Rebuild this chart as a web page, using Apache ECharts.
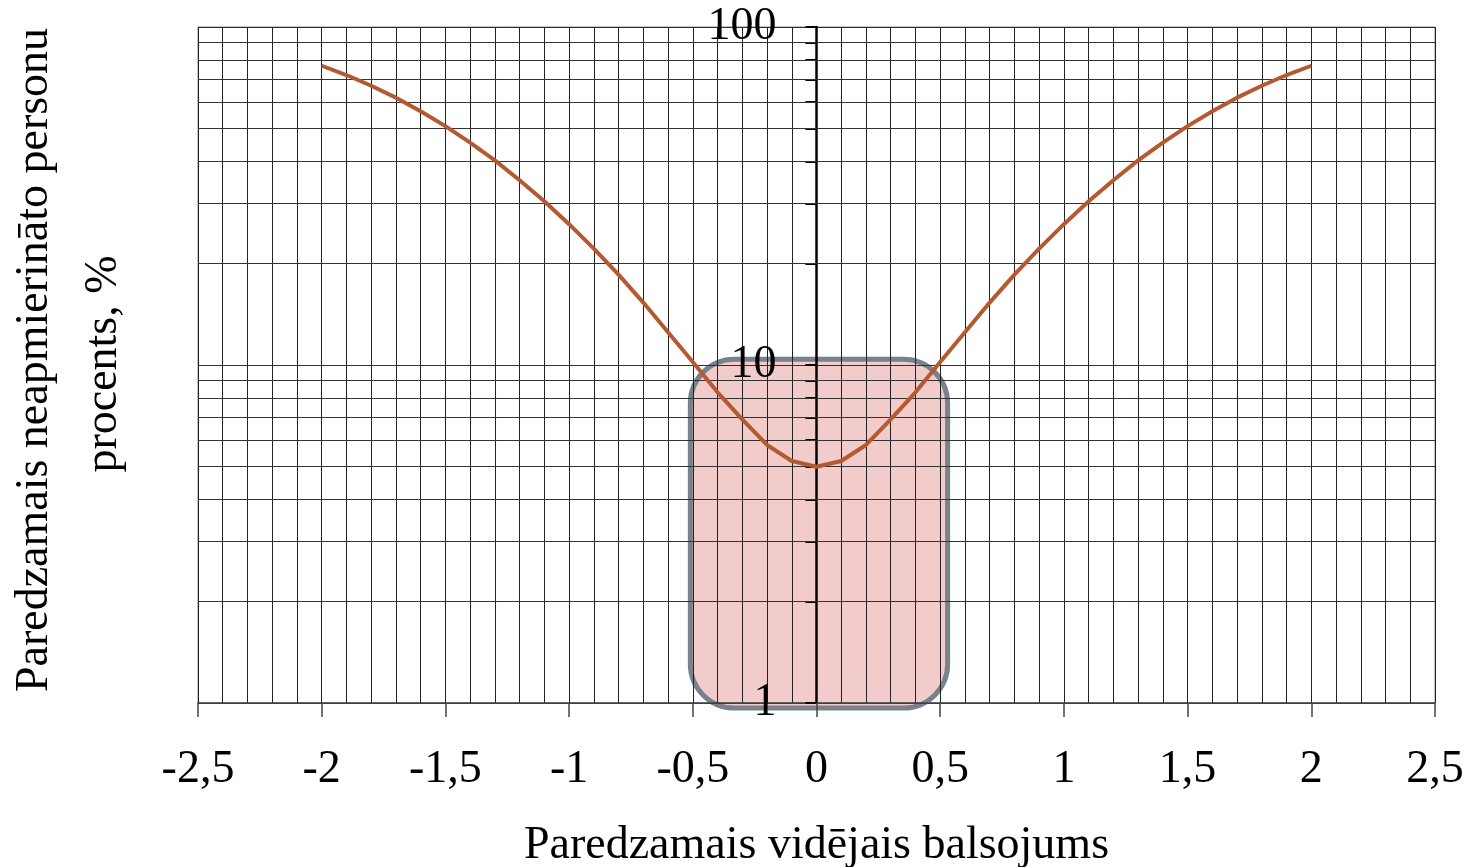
<!DOCTYPE html>
<html><head><meta charset="utf-8">
<script src="https://cdn.jsdelivr.net/npm/echarts@6/dist/echarts.min.js"></script>
<style>html,body{margin:0;padding:0;background:#fff}#c{width:1472px;height:867px}</style>
</head><body><div id="c"></div>
<script>
const pmv = [-2,-1.9,-1.8,-1.7,-1.6,-1.5,-1.4,-1.3,-1.2,-1.1,-1,-0.9,-0.8,-0.7,-0.6,-0.5,-0.4,-0.3,-0.2,-0.1,0,0.1,0.2,0.3,0.4,0.5,0.6,0.7,0.8,0.9,1,1.1,1.2,1.3,1.4,1.5,1.6,1.7,1.8,1.9,2];
const ppd = [76.8,72.1,67.0,61.8,56.3,50.9,45.5,40.3,35.2,30.5,26.1,22.1,18.5,15.3,12.5,10.2,8.3,6.9,5.8,5.2,5.0,5.2,5.8,6.9,8.3,10.2,12.5,15.3,18.5,22.1,26.1,30.5,35.2,40.3,45.5,50.9,56.3,61.8,67.0,72.1,76.8];
const yMinorLines = [2,3,4,5,6,7,8,9,20,30,40,50,60,70,80,90];
const yTickValues = [1,2,3,4,5,6,7,8,9,10,20,30,40,50,60,70,80,90,100];
const yLabelValues = [1,10,100];
const boxX = [-0.51, 0.53];
const boxY = [0.966, 10.4];
const xTitle = 'Paredzamais vidējais balsojums';
const yTitle = ['Paredzamais neapmierināto personu', 'procents, %'];

const font = '"Liberation Serif", "Times New Roman", serif';
const GRID_LEFT = 198;
const chart = echarts.init(document.getElementById('c'));
chart.setOption({
  backgroundColor: '#fff',
  animation: false,
  grid: {left: GRID_LEFT, right: 37, top: 27, bottom: 164, show: true, borderColor: '#888', borderWidth: 1,
    containLabel: false, outerBoundsMode: 'none'},
  xAxis: {
    type: 'value', min: -2.5, max: 2.5, interval: 0.5,
    axisLine: {onZero: false, lineStyle: {color: '#444', width: 1.5}},
    axisTick: {show: true, length: 14, lineStyle: {color: '#444', width: 1.5}},
    minorTick: {show: false, splitNumber: 5},
    splitLine: {show: true, lineStyle: {color: '#222', width: 1}},
    minorSplitLine: {show: true, lineStyle: {color: '#222', width: 1}},
    axisLabel: {margin: 44, fontFamily: font, fontSize: 46, color: '#000',
      formatter: v => String(v).replace('.', ',')},
    name: xTitle, nameLocation: 'middle', nameGap: 120,
    nameTextStyle: {fontFamily: font, fontSize: 46, color: '#000'}
  },
  yAxis: {
    type: 'log', logBase: 10, min: 1, max: 100, position: 'left',
    axisLine: {show: true, onZero: false, lineStyle: {color: '#000', width: 2.5}},
    axisTick: {show: true, length: 11, customValues: yTickValues, lineStyle: {color: '#000', width: 2}},
    splitLine: {show: true, lineStyle: {color: '#333', width: 1}},
    axisLabel: {margin: 40, fontFamily: font, fontSize: 46, color: '#000', customValues: yLabelValues},
  },
  graphic: [
    {type: 'text', id: 'yt1', rotation: Math.PI/2, x: 35, y: 360,
      style: {text: yTitle[0], font: '46px ' + font, fill: '#000', align: 'center', verticalAlign: 'middle'}},
    {type: 'text', id: 'yt2', rotation: Math.PI/2, x: 104, y: 364,
      style: {text: yTitle[1], font: '46px ' + font, fill: '#000', align: 'center', verticalAlign: 'middle'}}
  ],
  series: [{
    type: 'line', data: pmv.map((x, i) => [x, ppd[i]]),
    symbol: 'none', smooth: false, z: 5,
    lineStyle: {color: '#b55a30', width: 4},
    markLine: {
      silent: true, symbol: 'none', label: {show: false},
      lineStyle: {color: '#333', width: 1, type: 'solid'},
      data: yMinorLines.map(v => ({yAxis: v}))
    }
  }]
});
const zeroPx = chart.convertToPixel({xAxisIndex: 0}, 0);
chart.setOption({yAxis: {offset: -(zeroPx - GRID_LEFT)}});
const p1 = chart.convertToPixel({gridIndex: 0}, [boxX[0], boxY[1]]);
const p2 = chart.convertToPixel({gridIndex: 0}, [boxX[1], boxY[0]]);
chart.setOption({graphic: [{
  type: 'rect', id: 'box', z: -1,
  shape: {x: p1[0], y: p1[1], width: p2[0] - p1[0], height: p2[1] - p1[1], r: 44},
  style: {fill: '#f2cbcb', stroke: '#78828c', lineWidth: 5}
}]});
</script></body></html>
